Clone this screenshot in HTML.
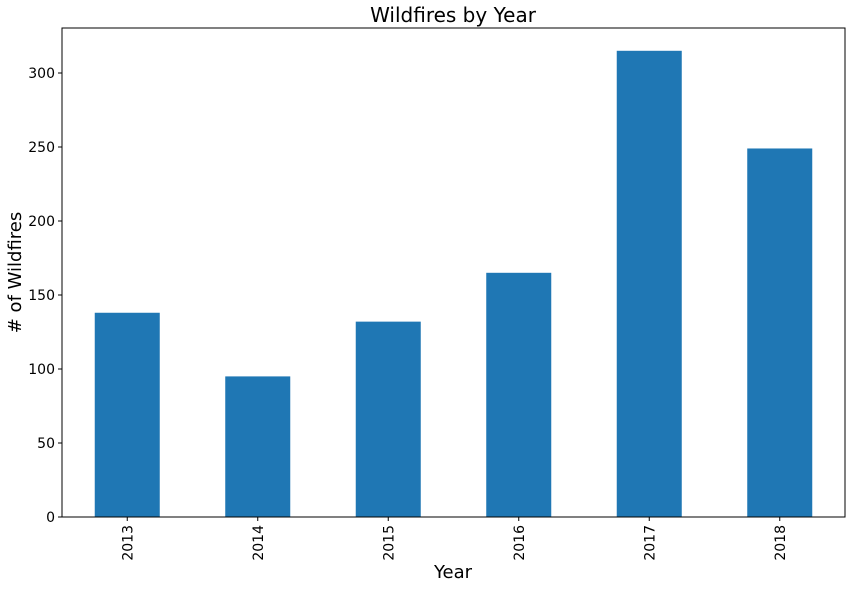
<!DOCTYPE html>
<html><head><meta charset="utf-8"><style>
body{margin:0;background:#fff;}
svg text{font-family:"DejaVu Sans","Liberation Sans",sans-serif;}
</style></head><body>
<svg id="chart" width="851" height="589" xmlns="http://www.w3.org/2000/svg"></svg>
<script>
const categories=["2013","2014","2015","2016","2017","2018"];
const values=[138,95,132,165,315,249];
const yTicks=[0,50,100,150,200,250,300];
const svg=document.getElementById('chart');
const NS='http://www.w3.org/2000/svg';
const L=62,R=845,T=28,B=517,YMAX=330.4;
const y=v=>B-(v/YMAX)*(B-T);
const band=(R-L)/categories.length;
const x=i=>L+band*(i+0.5);
function mk(tag,attrs,text){const e=document.createElementNS(NS,tag);for(const k in attrs)e.setAttribute(k,attrs[k]);if(text!==undefined)e.textContent=text;svg.appendChild(e);return e;}
let t=mk('text',{x:453,y:22,'text-anchor':'middle','font-size':20,fill:'#000'},'Wildfires by Year');


categories.forEach((c,i)=>{
  const r=mk('rect',{x:x(i)-32.5,y:y(values[i]),width:65,height:B-y(values[i]),fill:'#1f77b4'});
  
  
  mk('line',{x1:x(i),x2:x(i),y1:B,y2:B+4,stroke:'#000','stroke-width':1});
  const l=mk('text',{transform:`translate(${x(i)+5},${B+8}) rotate(-90)`,'text-anchor':'end','font-size':14,fill:'#000'},c);
  
  
});
yTicks.forEach(v=>{
  mk('line',{x1:L-4,x2:L,y1:y(v),y2:y(v),stroke:'#000','stroke-width':1});
  const l=mk('text',{x:L-7,y:y(v)+5,'text-anchor':'end','font-size':14,fill:'#000'},v);
  
  
});
const f=mk('rect',{x:L,y:T,width:R-L,height:B-T,fill:'none',stroke:'#000','stroke-width':1});


const xt=mk('text',{x:453,y:578,'text-anchor':'middle','font-size':18,fill:'#000'},'Year');


const yt=mk('text',{transform:`translate(21,${(T+B)/2}) rotate(-90)`,'text-anchor':'middle','font-size':18,fill:'#000'},'# of Wildfires');


</script>
</body></html>
